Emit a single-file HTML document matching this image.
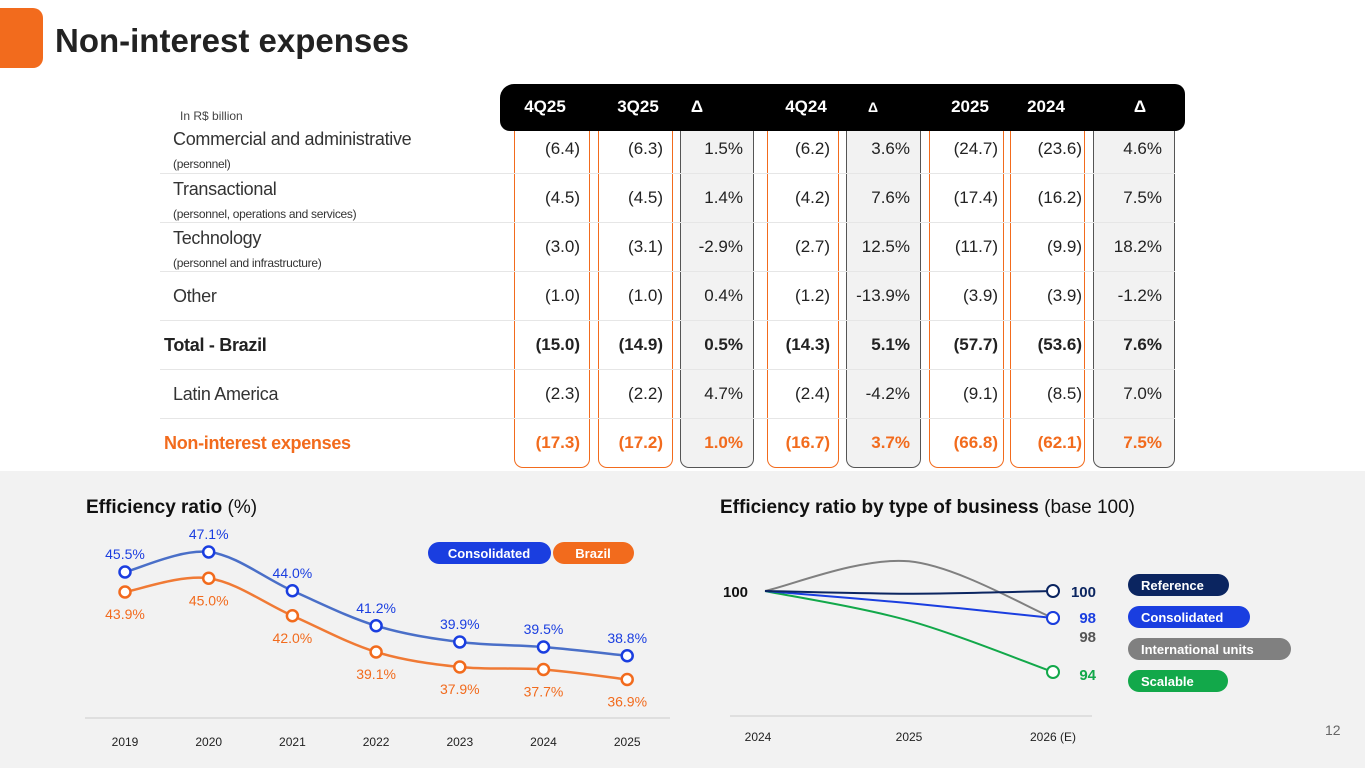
<!DOCTYPE html>
<html><head><meta charset="utf-8"><style>
html,body{margin:0;padding:0}
body{width:1365px;height:768px;position:relative;overflow:hidden;background:#fff;font-family:"Liberation Sans",sans-serif;color:#222}
.abs{position:absolute}
.lbl{position:absolute;left:173px;font-size:18px;color:#333;letter-spacing:-0.3px}
.sub{position:absolute;left:173px;font-size:12px;color:#333;letter-spacing:-0.3px}
.sep{position:absolute;left:160px;width:1015px;height:1px;background:#e6e6e6}
.col{position:absolute;top:120px;height:348px;box-sizing:border-box;border-radius:0 0 9px 9px}
.or{border:1.5px solid #f26b1d;border-top:none;background:#fff}
.gr{border:1.5px solid #555;border-top:none;background:#f2f2f2}
.v{position:absolute;font-size:17px;text-align:right;width:80px;color:#222}
.hd{position:absolute;top:97px;font-size:17px;font-weight:bold;color:#fff;text-align:center;width:70px}
</style></head><body>
<div class="abs" style="left:-14px;top:8px;width:57px;height:60px;background:#f26b1d;border-radius:10px"></div>
<div class="abs" style="left:55px;top:22px;font-size:33px;font-weight:bold;color:#222">Non-interest expenses</div>

<div class="col or" style="left:514px;width:76px"></div>
<div class="col or" style="left:598px;width:75px"></div>
<div class="col gr" style="left:680px;width:74px"></div>
<div class="col or" style="left:767px;width:72px"></div>
<div class="col gr" style="left:846px;width:75px"></div>
<div class="col or" style="left:929px;width:75px"></div>
<div class="col or" style="left:1010px;width:75px"></div>
<div class="col gr" style="left:1093px;width:82px"></div>

<div class="abs" style="left:500px;top:84px;width:685px;height:47px;background:#000;border-radius:14px 10px 10px 10px"></div>
<div class="hd" style="left:510px">4Q25</div>
<div class="hd" style="left:603px">3Q25</div>
<div class="hd" style="left:662px">Δ</div>
<div class="hd" style="left:771px">4Q24</div>
<div class="hd" style="left:838px;font-size:14px;top:99px">Δ</div>
<div class="hd" style="left:935px">2025</div>
<div class="hd" style="left:1011px">2024</div>
<div class="hd" style="left:1105px">Δ</div>
<div class="abs" style="left:180px;top:109px;font-size:12px;color:#444">In R$ billion</div>

<div class="lbl" style="top:129px">Commercial and administrative</div>
<div class="sub" style="top:157px">(personnel)</div>
<div class="lbl" style="top:179px">Transactional</div>
<div class="sub" style="top:207px">(personnel, operations and services)</div>
<div class="lbl" style="top:228px">Technology</div>
<div class="sub" style="top:256px">(personnel and infrastructure)</div>
<div class="lbl" style="top:286px">Other</div>
<div class="lbl" style="top:335px;left:164px;font-weight:bold;color:#222">Total - Brazil</div>
<div class="lbl" style="top:384px">Latin America</div>
<div class="lbl" style="top:433px;left:164px;font-weight:bold;color:#f26b1d">Non-interest expenses</div>
<div class="sep" style="top:173px"></div>
<div class="sep" style="top:222px"></div>
<div class="sep" style="top:271px"></div>
<div class="sep" style="top:320px"></div>
<div class="sep" style="top:369px"></div>
<div class="sep" style="top:418px"></div>
<div id="cells"></div>

<div class="abs" style="left:0;top:471px;width:1365px;height:297px;background:#f2f2f2"></div>
<svg class="abs" style="left:0;top:0" width="1365" height="768" id="charts" font-family="Liberation Sans, sans-serif">
<text x="86" y="513" font-size="19" font-weight="bold" fill="#111">Efficiency ratio <tspan font-weight="normal">(%)</tspan></text>
<text x="720" y="513" font-size="19" font-weight="bold" fill="#111">Efficiency ratio by type of business <tspan font-weight="normal">(base 100)</tspan></text>
<line x1="85" y1="718" x2="670" y2="718" stroke="#ccc"/>
<line x1="730" y1="716" x2="1092" y2="716" stroke="#ccc"/>
<rect x="428" y="542" width="123" height="22" rx="11" fill="#1a3ee0"/>
<text x="489" y="558" font-size="13" font-weight="bold" fill="#fff" text-anchor="middle">Consolidated</text>
<rect x="553" y="542" width="81" height="22" rx="11" fill="#f26b1d"/>
<text x="593" y="558" font-size="13" font-weight="bold" fill="#fff" text-anchor="middle">Brazil</text>
<g id="L"></g><g id="R"></g>
<text x="1325" y="735" font-size="14" fill="#666">12</text>
</svg>
<script>
const rowTops=[149,198,247,296,345,394,443];
const colRight=[580,663,743,830,910,998,1082,1162];
const tableVals=[
["(6.4)","(6.3)","1.5%","(6.2)","3.6%","(24.7)","(23.6)","4.6%"],
["(4.5)","(4.5)","1.4%","(4.2)","7.6%","(17.4)","(16.2)","7.5%"],
["(3.0)","(3.1)","-2.9%","(2.7)","12.5%","(11.7)","(9.9)","18.2%"],
["(1.0)","(1.0)","0.4%","(1.2)","-13.9%","(3.9)","(3.9)","-1.2%"],
["(15.0)","(14.9)","0.5%","(14.3)","5.1%","(57.7)","(53.6)","7.6%"],
["(2.3)","(2.2)","4.7%","(2.4)","-4.2%","(9.1)","(8.5)","7.0%"],
["(17.3)","(17.2)","1.0%","(16.7)","3.7%","(66.8)","(62.1)","7.5%"]];
const cells=document.getElementById('cells');
tableVals.forEach((r,i)=>r.forEach((t,j)=>{const d=document.createElement('div');d.className='v';


d.style.left=(colRight[j]-80)+'px';d.style.top=(rowTops[i]-10)+'px';d.textContent=t;
if(i>=4&&i!=5)d.style.fontWeight='bold';if(i==6)d.style.color='#f26b1d';cells.appendChild(d);}));

const NS='http://www.w3.org/2000/svg';
function el(p,tag,a){const e=document.createElementNS(NS,tag);for(const k in a)e.setAttribute(k,a[k]);p.appendChild(e);return e;}
function smooth(pts){let d='M'+pts[0][0]+','+pts[0][1];for(let i=0;i<pts.length-1;i++){const p0=pts[i-1]||pts[i],p1=pts[i],p2=pts[i+1],p3=pts[i+2]||p2;
d+=' C'+(p1[0]+(p2[0]-p0[0])/6)+','+(p1[1]+(p2[1]-p0[1])/6)+' '+(p2[0]-(p3[0]-p1[0])/6)+','+(p2[1]-(p3[1]-p1[1])/6)+' '+p2[0]+','+p2[1];}return d;}

const years=["2019","2020","2021","2022","2023","2024","2025"];
const consolidated=[45.5,47.1,44.0,41.2,39.9,39.5,38.8];
const brazil=[43.9,45.0,42.0,39.1,37.9,37.7,36.9];
const xL=i=>125+i*83.7;
const yL=v=>552+(47.1-v)*12.5;
const L=document.getElementById('L');
years.forEach((y,i)=>{const t=el(L,'text',{x:xL(i),y:746,'font-size':12,fill:'#222','text-anchor':'middle'});t.textContent=y;

});
[[consolidated,'#4a6fc8','#1a3ee0',-1],[brazil,'#f07a35','#f26b1d',1]].forEach(([s,lc,pc,dir])=>{
const pts=s.map((v,i)=>[xL(i),yL(v)]);
const p=el(L,'path',{d:smooth(pts),fill:'none',stroke:lc,'stroke-width':2.5});


pts.forEach((q,i)=>{const c=el(L,'circle',{cx:q[0],cy:q[1],r:5.5,fill:'#fff',stroke:pc,'stroke-width':2.5});


const t=el(L,'text',{x:q[0],y:dir<0?q[1]-13:q[1]+27,'font-size':14,fill:pc,'text-anchor':'middle'});t.textContent=s[i].toFixed(1)+'%';

});});

const rYears=["2024","2025","2026 (E)"];
const reference=[100,99.8,100];
const consol2=[100,99.1,98];
const intl=[100,102.2,98];
const scalable=[100,97.8,94];
const xR=i=>765+i*144;
const yR=v=>591+(100-v)*13.5;
const R=document.getElementById('R');
rYears.forEach((y,i)=>{const t=el(R,'text',{x:i==0?758:xR(i),y:741,'font-size':12,fill:'#222','text-anchor':'middle'});t.textContent=y;

});
const t0=el(R,'text',{x:723,y:597,'font-size':15,'font-weight':'bold',fill:'#111'});t0.textContent='100';


const series=[[intl,'#808080','#555',14],[scalable,'#12a84a','#12a84a',8],[consol2,'#1a3ee0','#1a3ee0',5],[reference,'#0b2560','#0b2560',6]];
series.forEach(([s,c,tc,dy])=>{const pts=s.map((v,i)=>[xR(i),yR(v)]);
const p=el(R,'path',{d:smooth(pts),fill:'none',stroke:c,'stroke-width':2});


const q=pts[2];const cc=el(R,'circle',{cx:q[0],cy:q[1],r:6,fill:'#fff',stroke:c,'stroke-width':2});


const t=el(R,'text',{x:1096,y:q[1]+dy+(s===intl?10:0),'font-size':15,'font-weight':'bold',fill:tc,'text-anchor':'end'});t.textContent=Math.round(s[2]);

});
const leg=[['Reference','#0b2560',574,101],['Consolidated','#1a3ee0',606,122],['International units','#808080',638,163],['Scalable','#12a84a',670,100]];
leg.forEach(([n,c,y,w])=>{const r=el(R,'rect',{x:1128,y:y,width:w,height:22,rx:11,fill:c});


const t=el(R,'text',{x:1141,y:y+16,'font-size':13,'font-weight':'bold',fill:'#fff'});t.textContent=n;});
</script>
</body></html>
